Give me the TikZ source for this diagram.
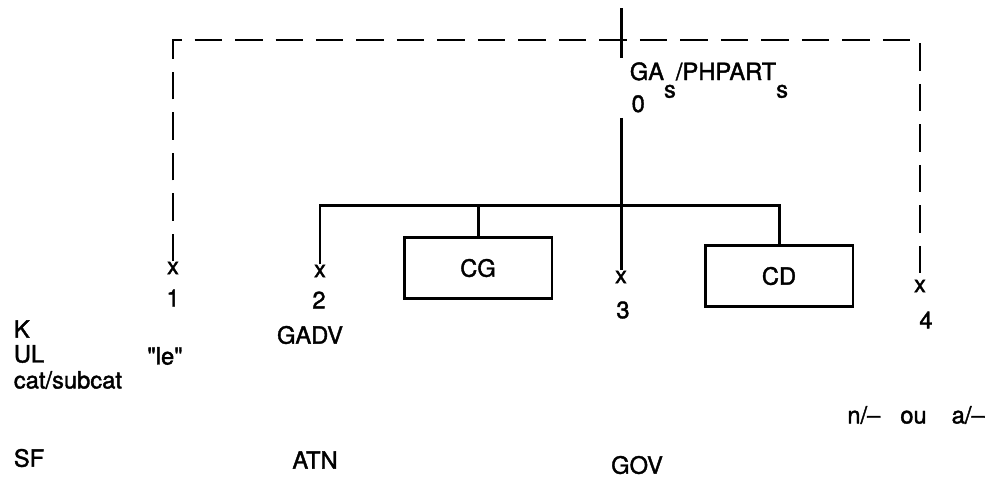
\documentclass[tikz,border=0pt]{standalone}
\usepackage{fontspec}
\setmainfont{TeX Gyre Heros}[Ligatures=TeXOff, RawFeature={embolden=1.6}]
\begin{document}
\begin{tikzpicture}[x=0.02cm, y=-0.02cm,
    every node/.style={font=\fontsize{13.5}{15}\selectfont, inner sep=2pt},
    tree/.style={line width=1.7pt},
    link/.style={line width=1.5pt, dash pattern=on 5.5mm off 2.6mm},
    box/.style={draw, line width=1.7pt, minimum width=2.96cm, minimum height=1.22cm},
    cross/.style={inner sep=0pt}]
  \useasboundingbox (0,0) rectangle (1000,495);
  % top of the tree
  \coordinate (t0) at (621,8);
  \coordinate (top) at (0,40);
  \node[anchor=base west] (head) at (626,80) {GA\raisebox{-10pt}{s}/PHPART\raisebox{-10pt}{s}};
  \node[anchor=base west, inner sep=3pt] (zero) at (626,112) {0};
  % positions
  \node[cross] (x1) at (173,268) {x};
  \node[cross] (x2) at (320,271) {x};
  \node[cross] (x3) at (621,277) {x};
  \node[cross] (x4) at (920,286) {x};
  \node at (173,298) {1};
  \node at (319,300) {2};
  \node at (623,310) {3};
  \node at (926,320) {4};
  \node[box] (cg) at (478,268) {CG};
  \node[box] (cd) at (779,276) {CD};
  \coordinate (bl) at (320,205);
  % branches
  \draw[tree] (t0) -- (t0 |- head.north);
  \draw[tree] (zero.south -| t0) -- (x3.north);
  \draw[tree] (x2.north) |- (cd.north |- bl) -- (cd.north);
  \draw[tree] (cg.north |- bl) -- (cg.north);
  \draw[link] (x1.north) -- (x1.north |- top) -- (x4.north |- top) -- (x4.north);
  % labels
  \node[anchor=west] at (10,329) {K};
  \node[anchor=west] at (10,354) {UL};
  \node at (165,356) {"le"};
  \node[anchor=west] at (10,380) {cat/subcat};
  \node[anchor=west] at (10,458) {SF};
  \node at (310,335) {GADV};
  \node at (315,460) {ATN};
  \node at (637,465) {GOV};
  \node at (916,415) {n/–\hspace{4mm}ou\hspace{5mm}a/–};
\end{tikzpicture}
\end{document}
